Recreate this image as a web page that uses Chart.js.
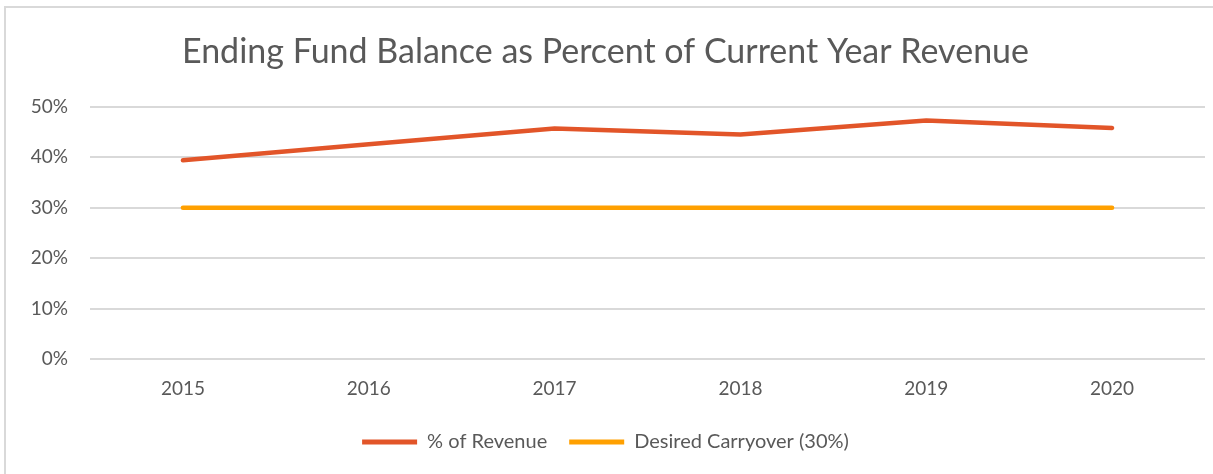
<!DOCTYPE html>
<html>
<head>
<meta charset="utf-8">
<script src="https://cdn.jsdelivr.net/npm/chart.js@4/dist/chart.umd.min.js"></script>
<style>
  html, body { margin: 0; padding: 0; background: #fff; }
  #wrap {
    position: absolute; left: 4px; top: 6px;
    width: 1207px; height: 466px;
    border-top: 2px solid #d9d9d9;
    border-left: 2px solid #d9d9d9;
  }
</style>
</head>
<body>
<div id="wrap"><canvas id="chart" width="1207" height="466"></canvas></div>
<script>
// Chart data
const years = ['2015', '2016', '2017', '2018', '2019', '2020'];
const revenuePct = [39.4, 42.6, 45.7, 44.5, 47.3, 45.8];
const desiredCarryover = [30, 30, 30, 30, 30, 30];
const yTicks = [0, 10, 20, 30, 40, 50];

const textColor = '#595959';
const fontFamily = 'Lato, "Open Sans", sans-serif';

const ctx = document.getElementById('chart').getContext('2d');
new Chart(ctx, {
    type: 'line',
    data: {
        labels: years,
        datasets: [
            {
                label: '% of Revenue',
                data: revenuePct,
                borderColor: '#E25529',
                backgroundColor: '#E25529',
                borderWidth: 4.5,
                borderCapStyle: 'round',
                borderJoinStyle: 'round',
                pointRadius: 0,
                tension: 0
            },
            {
                label: 'Desired Carryover (30%)',
                data: desiredCarryover,
                borderColor: '#FFA000',
                backgroundColor: '#FFA000',
                borderWidth: 4.5,
                borderCapStyle: 'round',
                pointRadius: 0,
                tension: 0
            }
        ]
    },
    options: {
        responsive: false,
        animation: false,
        layout: { padding: { left: 0, right: 8, top: 0, bottom: 12 } },
        plugins: {
            title: {
                display: true,
                text: 'Ending Fund Balance as Percent of Current Year Revenue',
                color: textColor,
                font: { family: fontFamily, size: 34, weight: 'normal' },
                padding: { top: 24, bottom: 34 }
            },
            legend: {
                position: 'bottom',
                labels: {
                    color: textColor,
                    font: { family: fontFamily, size: 20 },
                    boxWidth: 55,
                    boxHeight: 5,
                    padding: 22,
                    generateLabels: (chart) => chart.data.datasets.map((ds, i) => ({
                        text: ds.label,
                        fillStyle: ds.borderColor,
                        strokeStyle: ds.borderColor,
                        lineWidth: 0,
                        fontColor: textColor,
                        datasetIndex: i
                    }))
                }
            },
            tooltip: { enabled: false }
        },
        scales: {
            x: {
                offset: true,
                grid: { display: false },
                border: { display: false },
                ticks: {
                    color: textColor,
                    font: { family: fontFamily, size: 19 },
                    padding: 10
                }
            },
            y: {
                min: 0,
                max: 50,
                afterBuildTicks: (scale) => { scale.ticks = yTicks.map(v => ({ value: v })); },
                afterFit: (scale) => { scale.width = 84; },
                grid: { color: '#d9d9d9', lineWidth: 2, drawTicks: false },
                border: { display: false },
                ticks: {
                    color: textColor,
                    font: { family: fontFamily, size: 19 },
                    padding: 22,
                    callback: (v) => v + '%'
                }
            }
        }
    }
});
</script>
</body>
</html>
